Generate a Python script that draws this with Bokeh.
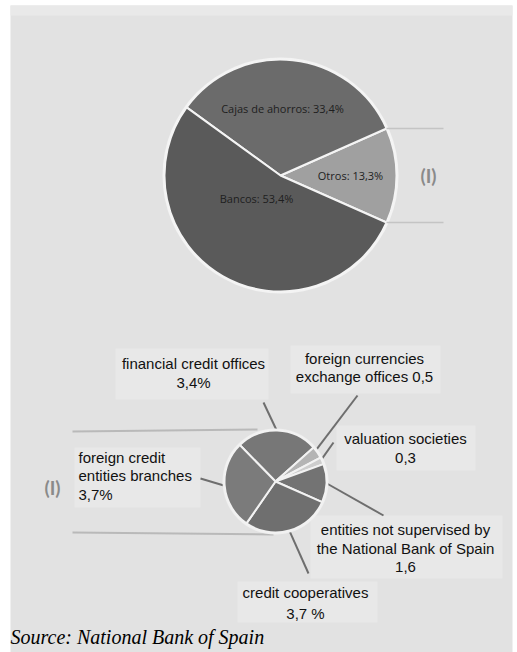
import numpy as np
from bokeh.plotting import figure
from bokeh.models import Range1d
from bokeh.core.properties import value
from bokeh.embed import file_html
from bokeh.resources import INLINE

W, H = 517, 652

# ---- data ----
main_labels = ["Otros", "Cajas de ahorros", "Bancos"]
main_values = [13.3, 33.4, 53.4]
main_texts = ["Otros: 13,3%", "Cajas de ahorros: 33,4%", "Bancos: 53,4%"]
main_colors = ["#a0a0a0", "#6b6b6b", "#5a5a5a"]

sub_labels = ["financial credit offices", "foreign currencies exchange offices",
              "valuation societies", "entities not supervised by the National Bank of Spain",
              "credit cooperatives", "foreign credit entities branches"]
sub_values = [3.4, 0.5, 0.3, 1.6, 3.7, 3.7]
sub_texts = [["financial credit offices", "3,4%"],
             ["foreign currencies", "exchange offices 0,5"],
             ["valuation societies", "0,3"],
             ["entities not supervised by", "the National Bank of Spain", "1,6"],
             ["credit cooperatives", "3,7 %"],
             ["foreign credit", "entities branches", "3,7%"]]
sub_colors = ["#777777", "#b4b4b4", "#cdcdcd", "#737373", "#6f6f6f", "#7b7b7b"]

source_text = "Source: National Bank of Spain"


def Y(py):
    return H - py


p = figure(width=W, height=H, x_range=Range1d(0, W), y_range=Range1d(0, H),
           output_backend="svg", toolbar_location=None, min_border=0,
           x_axis_location=None, y_axis_location=None)
p.grid.visible = False
p.outline_line_color = None
p.background_fill_color = "white"
p.border_fill_color = "white"

# background panel
p.quad(left=[10], right=[512], top=[Y(5)], bottom=[Y(652)], fill_color="#e2e2e2", line_color=None)
p.quad(left=[10], right=[512], top=[Y(5)], bottom=[Y(15)], fill_color="#e9e9e9", line_color=None)

# ---- top pie ----
cx, cy, R = 280, Y(175), 116
fr = np.array(main_values) / sum(main_values)
ang = fr * 2 * np.pi
start0 = -ang[0] / 2
starts = start0 + np.concatenate([[0], np.cumsum(ang)[:-1]])
ends = starts + ang
p.circle(x=[cx], y=[cy], radius=R + 2, fill_color="#f3f3f3", line_color=None)
p.wedge(x=cx, y=cy, radius=R, start_angle=starts, end_angle=ends,
        fill_color=main_colors, line_color="#f4f4f4", line_width=2)

# connector lines from Otros wedge
for a in (starts[0], ends[0]):
    x0 = cx + R * np.cos(a)
    y0 = cy + R * np.sin(a)
    p.segment(x0=[x0], y0=[y0], x1=[443], y1=[y0], line_color="#c4c4c4", line_width=1.5)

p.text(x=[428], y=[Y(175)], text=["(I)"], text_align="center", text_baseline="middle",
       text_font=value("Lato"), text_font_style="bold", text_font_size="19px", text_color="#8a8a8a")

main_pos = [(350, 175), (282, 108), (256, 198)]
p.text(x=[q[0] for q in main_pos], y=[Y(q[1]) for q in main_pos], text=main_texts,
       text_align="center", text_baseline="middle", text_font=value("Open Sans"),
       text_font_size="11px", text_color="#1e1e1e")

# ---- bottom pie ----
bx, by, r = 275, Y(481), 51
sfr = np.array(sub_values) / sum(sub_values)
sang = sfr * 2 * np.pi
top_start = np.deg2rad(134.4)
s_hi = top_start - np.concatenate([[0], np.cumsum(sang)[:-1]])
s_lo = s_hi - sang
mids = (s_hi + s_lo) / 2

# horizontal lines linking to (I)
p.segment(x0=[72], y0=[Y(431)], x1=[257], y1=[Y(429)], line_color="#b9b9b9", line_width=2)
p.segment(x0=[72], y0=[Y(532)], x1=[273], y1=[Y(534)], line_color="#b9b9b9", line_width=2)
p.text(x=[52], y=[Y(487)], text=["(I)"], text_align="center", text_baseline="middle",
       text_font=value("Lato"), text_font_style="bold", text_font_size="19px", text_color="#8a8a8a")

# label boxes
boxes = [(115, 268, 348, 399), (290, 440, 345, 393), (336, 475, 425, 470),
         (310, 502, 515, 578), (237, 377, 581, 622), (74, 200, 447, 507)]
p.quad(left=[b[0] for b in boxes], right=[b[1] for b in boxes],
       top=[Y(b[2]) for b in boxes], bottom=[Y(b[3]) for b in boxes],
       fill_color="#e8e8e8", line_color=None)

# leader lines
anchors = [(263, 402), (357, 395), (333, 442), (383, 515), (308, 573), (200, 478)]
inner = [0.98, 0.85, 0.95, 1.0, 1.0, 1.0]
for m, (ax, ay), f in zip(mids, anchors, inner):
    p.segment(x0=[bx + r * f * np.cos(m)], y0=[by + r * f * np.sin(m)], x1=[ax], y1=[Y(ay)],
              line_color="#6e6e6e", line_width=2)

p.circle(x=[bx], y=[by], radius=r + 2, fill_color="#f0f0f0", line_color=None)
p.wedge(x=bx, y=by, radius=r, start_angle=s_lo, end_angle=s_hi,
        fill_color=sub_colors, line_color="#f2f2f2", line_width=2)

# label texts
label_pos = [(193, [363, 382], "center"), (364, [358, 376], "center"),
             (405, [438, 457], "center"), (405, [529, 548, 566], "center"),
             (305, [592, 613], "center"), (78, [457, 475, 494], "left")]
for (lx, ys, al), lines in zip(label_pos, sub_texts):
    p.text(x=[lx] * len(lines), y=[Y(v) for v in ys], text=lines, text_align=al,
           text_baseline="middle", text_font=value("Liberation Sans"),
           text_font_size="15px", text_color="#111111")

p.text(x=[10], y=[Y(636)], text=[source_text], text_align="left", text_baseline="middle",
       text_font=value("Liberation Serif"), text_font_style="italic", text_font_size="20px",
       text_color="#000000")

open("out.html", "w").write(file_html(p, INLINE))
